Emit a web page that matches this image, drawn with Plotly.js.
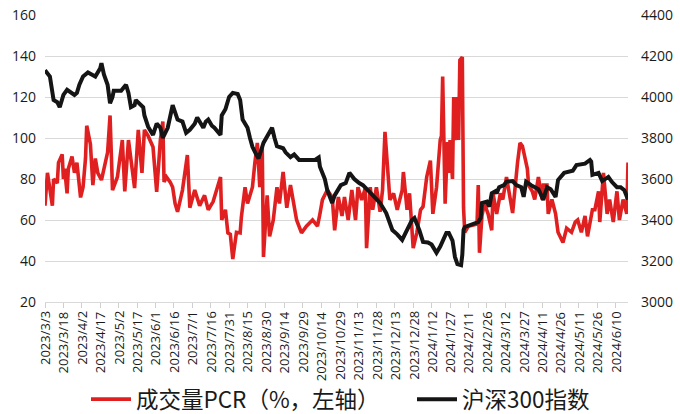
<!DOCTYPE html>
<html>
<head>
<meta charset="utf-8">
<script src="https://cdn.plot.ly/plotly-3.0.1.min.js"></script>
<style>
html,body{margin:0;padding:0;background:#fff;}
#chart{width:680px;height:414px;}
</style>
</head>
<body>
<div id="chart"></div>
<script>
// 成交量PCR（%，左轴）
const pcrDates = [
"2023-03-03","2023-03-05","2023-03-09","2023-03-10","2023-03-13","2023-03-14","2023-03-17","2023-03-18","2023-03-19","2023-03-21",
"2023-03-22","2023-03-25","2023-03-27","2023-03-29","2023-04-01","2023-04-03","2023-04-05","2023-04-06","2023-04-09","2023-04-11",
"2023-04-13","2023-04-15","2023-04-18","2023-04-21","2023-04-23","2023-04-25","2023-04-27","2023-05-01","2023-05-05","2023-05-07",
"2023-05-10","2023-05-13","2023-05-15","2023-05-18","2023-05-21","2023-05-23","2023-05-26","2023-05-30","2023-06-01","2023-06-02",
"2023-06-05","2023-06-07","2023-06-08","2023-06-10","2023-06-13","2023-06-15","2023-06-17","2023-06-19","2023-06-23","2023-06-27",
"2023-06-29","2023-07-03","2023-07-07","2023-07-11","2023-07-14","2023-07-18","2023-07-24","2023-07-25","2023-07-28","2023-07-30",
"2023-08-01","2023-08-03","2023-08-06","2023-08-09","2023-08-10","2023-08-13","2023-08-15","2023-08-19","2023-08-21","2023-08-23",
"2023-08-25","2023-08-27","2023-08-28","2023-08-31","2023-09-02","2023-09-05","2023-09-08","2023-09-10","2023-09-13","2023-09-16",
"2023-09-19","2023-09-21","2023-09-24","2023-09-28","2023-10-02","2023-10-07","2023-10-11","2023-10-13","2023-10-15","2023-10-19",
"2023-10-23","2023-10-25","2023-10-28","2023-10-31","2023-11-02","2023-11-05","2023-11-08","2023-11-11","2023-11-13","2023-11-16",
"2023-11-19","2023-11-20","2023-11-23","2023-11-25","2023-11-28","2023-12-01","2023-12-03","2023-12-05","2023-12-07","2023-12-09",
"2023-12-12","2023-12-15","2023-12-19","2023-12-20","2023-12-23","2023-12-25","2023-12-28","2023-12-31","2024-01-03","2024-01-05",
"2024-01-08","2024-01-11","2024-01-13","2024-01-16","2024-01-19","2024-01-20","2024-01-21","2024-01-23","2024-01-25","2024-01-26",
"2024-01-27","2024-01-29","2024-01-30","2024-01-31","2024-02-02","2024-02-03","2024-02-04","2024-02-06","2024-02-07","2024-02-08",
"2024-02-11","2024-02-18","2024-02-19","2024-02-20","2024-02-22","2024-02-24","2024-02-27","2024-03-01","2024-03-02","2024-03-05",
"2024-03-08","2024-03-10","2024-03-13","2024-03-16","2024-03-18","2024-03-22","2024-03-24","2024-03-26","2024-03-30","2024-03-31",
"2024-04-03","2024-04-05","2024-04-08","2024-04-11","2024-04-12","2024-04-15","2024-04-16","2024-04-19","2024-04-22","2024-04-24",
"2024-04-28","2024-05-01","2024-05-05","2024-05-08","2024-05-10","2024-05-13","2024-05-16","2024-05-18","2024-05-22","2024-05-24",
"2024-05-27","2024-05-28","2024-05-31","2024-06-03","2024-06-05","2024-06-08","2024-06-11","2024-06-13","2024-06-16","2024-06-19",
"2024-06-20"
];
const pcrValues = [
67,83,67,80,78,88,92,80,85,73,
85,91,83,88,71,76,90,106,97,77,
90,83,79.5,87,93,111,74.6,81,99,74,
99,85,75.6,104,83,104,101,95.6,80.5,73.7,
99,108,78.5,81,78.5,76,68,64,74.6,91.7,
66,74.6,67,72,65,69,81,60,65,53.7,
53,41,54,53.7,61.5,76,68,76,88,97.6,
76,95.6,42,72,52,60,76,68,83.4,66,
77,70,60,53.7,57,60,57,63,69.8,74.6,
71,55,71.2,62,71.2,60,74.6,60,76,69.8,
75.6,46.3,76,65,76,64,74.6,103,83,69.8,
73,65,74.6,83.4,65,73,46.3,54,65,66.5,
81,89,63,76,99,101,130,68,98,83,
99,80,120,99,120,99,138,139.5,66,54,
57,58,77,44,62,68,63,55,73,63,
73,70,81,70,63.4,88,97.6,96,85,77,
74,70,81,70,77,77,63,70,63,54,
49,56,54,59,60,54,62,52,65,65,
74,59,83,63,70,59,74,60,70,63,
88
];

// 沪深300指数（右轴）
const hsDates = [
"2023-03-03","2023-03-07","2023-03-10","2023-03-13","2023-03-15","2023-03-18","2023-03-21","2023-03-23","2023-03-27","2023-03-29",
"2023-03-31","2023-04-03","2023-04-07","2023-04-10","2023-04-13","2023-04-17","2023-04-18","2023-04-20","2023-04-23","2023-04-25",
"2023-04-27","2023-04-28","2023-05-04","2023-05-08","2023-05-10","2023-05-12","2023-05-15","2023-05-16","2023-05-19","2023-05-22",
"2023-05-23","2023-05-26","2023-05-30","2023-06-02","2023-06-05","2023-06-07","2023-06-11","2023-06-15","2023-06-19","2023-06-23",
"2023-06-26","2023-06-29","2023-07-03","2023-07-05","2023-07-10","2023-07-12","2023-07-14","2023-07-17","2023-07-19","2023-07-24",
"2023-07-25","2023-07-28","2023-07-31","2023-08-03","2023-08-07","2023-08-09","2023-08-11","2023-08-15","2023-08-17","2023-08-19",
"2023-08-22","2023-08-24","2023-08-28","2023-08-31","2023-09-04","2023-09-06","2023-09-08","2023-09-13","2023-09-15","2023-09-19",
"2023-09-22","2023-09-26","2023-10-09","2023-10-12","2023-10-13","2023-10-17","2023-10-19","2023-10-23","2023-10-25","2023-10-30",
"2023-11-03","2023-11-06","2023-11-10","2023-11-14","2023-11-17","2023-11-22","2023-12-01","2023-12-06","2023-12-11","2023-12-15",
"2023-12-19","2023-12-22","2023-12-27","2023-12-29","2024-01-02","2024-01-05","2024-01-09","2024-01-12","2024-01-16","2024-01-19",
"2024-01-24","2024-01-26","2024-01-29","2024-01-31","2024-02-02","2024-02-05","2024-02-06","2024-02-07","2024-02-08","2024-02-19",
"2024-02-21","2024-02-22","2024-02-26","2024-02-28","2024-03-01","2024-03-04","2024-03-05","2024-03-07","2024-03-11","2024-03-13",
"2024-03-18","2024-03-21","2024-03-25","2024-03-27","2024-03-29","2024-04-02","2024-04-08","2024-04-10","2024-04-12","2024-04-15",
"2024-04-18","2024-04-22","2024-04-24","2024-04-29","2024-05-06","2024-05-09","2024-05-16","2024-05-20","2024-05-21","2024-05-22",
"2024-05-27","2024-05-30","2024-06-04","2024-06-07","2024-06-11","2024-06-14","2024-06-17","2024-06-20"
];
const hsValues = [
4130,4100,3985,3975,3950,4010,4035,4025,4010,4020,
4060,4100,4120,4110,4100,4140,4165,4110,4060,3970,
4000,4030,4030,4060,4020,3950,3960,3985,3970,3950,
3910,3855,3815,3870,3850,3800,3850,3960,3890,3880,
3825,3840,3870,3900,3850,3880,3890,3860,3850,3815,
3910,3940,4000,4020,4015,3985,3890,3850,3800,3757,
3720,3700,3776,3810,3850,3800,3760,3750,3730,3707,
3720,3693,3693,3705,3660,3600,3546,3483,3520,3570,
3580,3630,3600,3580,3570,3540,3483,3434,3351,3330,
3303,3340,3400,3410,3351,3293,3290,3280,3240,3270,
3337,3337,3300,3220,3185,3180,3230,3351,3366,3390,
3410,3483,3490,3465,3530,3540,3530,3560,3570,3587,
3590,3570,3560,3513,3587,3570,3550,3525,3498,3560,
3550,3513,3595,3630,3640,3668,3675,3693,3685,3620,
3630,3590,3610,3585,3560,3560,3545,3500
];

// x-axis tick dates and labels
const xTickVals = [
"2023-03-03","2023-03-18","2023-04-02","2023-04-17","2023-05-02","2023-05-17","2023-06-01","2023-06-16",
"2023-07-01","2023-07-16","2023-07-31","2023-08-15","2023-08-30","2023-09-14","2023-09-29","2023-10-14",
"2023-10-29","2023-11-13","2023-11-28","2023-12-13","2023-12-28","2024-01-12","2024-01-27","2024-02-11",
"2024-02-26","2024-03-12","2024-03-27","2024-04-11","2024-04-26","2024-05-11","2024-05-26","2024-06-10"
];
const xTickText = [
"2023/3/3","2023/3/18","2023/4/2","2023/4/17","2023/5/2","2023/5/17","2023/6/1","2023/6/16",
"2023/7/1","2023/7/16","2023/7/31","2023/8/15","2023/8/30","2023/9/14","2023/9/29","2023/10/14",
"2023/10/29","2023/11/13","2023/11/28","2023/12/13","2023/12/28","2024/1/12","2024/1/27","2024/2/11",
"2024/2/26","2024/3/12","2024/3/27","2024/4/11","2024/4/26","2024/5/11","2024/5/26","2024/6/10"
];
const leftTicks = [20,40,60,80,100,120,140,160];
const rightTicks = [3000,3200,3400,3600,3800,4000,4200,4400];

const FONT = "'Open Sans', 'Noto Sans CJK SC', sans-serif";
const CJK = "'Noto Sans CJK SC', 'Open Sans', sans-serif";

const traces = [
  {
    x: pcrDates, y: pcrValues, type: 'scatter', mode: 'lines',
    name: '成交量PCR（%，左轴）',
    line: {color: '#E02020', width: 3.6},
    yaxis: 'y', legend: 'legend'
  },
  {
    x: hsDates, y: hsValues, type: 'scatter', mode: 'lines',
    name: '沪深300指数',
    line: {color: '#151515', width: 4},
    yaxis: 'y2', legend: 'legend2'
  }
];

// dense date labels as rotated text placed on the x scale (Plotly would auto-hide some tick labels)
const dateLabels = xTickVals.map((v, i) => ({
  x: v, xref: 'x', y: -0.028, yref: 'paper',
  text: xTickText[i], showarrow: false, textangle: -90,
  xanchor: 'center', yanchor: 'top', borderpad: 0,
  font: {family: FONT, size: 13, color: '#1a1a1a'}
}));

const legendCommon = {
  orientation: 'h', xref: 'container', yref: 'container',
  xanchor: 'left', y: 0.035, yanchor: 'middle',
  font: {family: CJK, size: 22.5, color: '#1a1a1a'},
  bgcolor: 'rgba(0,0,0,0)', itemwidth: 40
};

const layout = {
  width: 680, height: 414,
  margin: {l: 45, r: 52, t: 15, b: 112},
  paper_bgcolor: '#fff', plot_bgcolor: '#fff',
  font: {family: FONT, color: '#1a1a1a', size: 13},
  showlegend: true,
  legend: Object.assign({}, legendCommon, {x: 86 / 680}),
  legend2: Object.assign({}, legendCommon, {x: 412 / 680}),
  annotations: dateLabels,
  xaxis: {
    type: 'date', range: ['2023-03-03', '2024-06-20'],
    tickmode: 'array', tickvals: xTickVals, ticktext: xTickText,
    showticklabels: false,
    ticks: 'outside', ticklen: 5, tickcolor: '#d0d0d0', tickwidth: 1,
    showgrid: false, zeroline: false, fixedrange: true,
    showline: true, linecolor: '#d9d9d9', linewidth: 1
  },
  yaxis: {
    range: [20, 160], tickvals: leftTicks,
    showgrid: true, gridcolor: '#d9d9d9', gridwidth: 1,
    zeroline: false, showline: false, ticks: '',
    tickfont: {family: FONT, size: 14, color: '#1a1a1a'},
    ticklabelstandoff: 8
  },
  yaxis2: {
    range: [3000, 4400], tickvals: rightTicks,
    overlaying: 'y', side: 'right',
    showgrid: false, zeroline: false, showline: false, ticks: '',
    tickfont: {family: FONT, size: 14, color: '#1a1a1a'},
    ticklabelstandoff: 12
  }
};

Plotly.newPlot('chart', traces, layout, {displayModeBar: false, staticPlot: true});
</script>
</body>
</html>
